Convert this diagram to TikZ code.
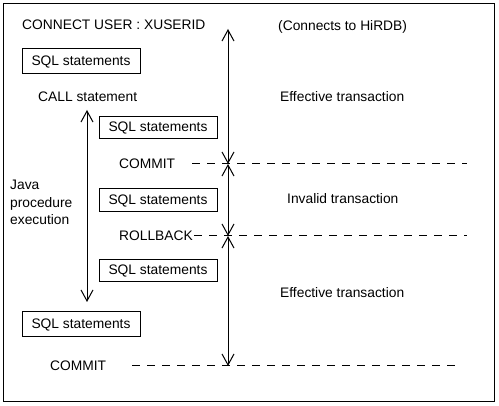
\documentclass[tikz,border=0pt]{standalone}
\usepackage{fontspec}
\setmainfont{Liberation Sans}
\usetikzlibrary{arrows.meta}
\tikzset{
  txt/.style={inner sep=0pt, anchor=west, font=\fontsize{13.8pt}{17.5pt}\selectfont},
  sqlbox/.style={draw, line width=1pt, minimum width=118pt, inner sep=0pt, font=\fontsize{13.8pt}{17.5pt}\selectfont},
  dline/.style={line width=1pt, dash pattern=on 8pt off 7pt},
  varrow/.style={line width=1pt, {Straight Barb[length=11pt,width=12pt]}-{Straight Barb[length=11pt,width=12pt]}}
}
\begin{document}
\begin{tikzpicture}[x=1pt,y=-1pt]
\useasboundingbox (0,0) rectangle (499,406);
\draw[line width=1pt] (3.5,3.5) rectangle (494,402);
% texts
\node[txt] (connect) at (22,25) {CONNECT USER : XUSERID};
\node[txt] (hirdb) at (278,27) {(Connects to HiRDB)};
\node[sqlbox, minimum height=25pt] (s1) at (81,61.5) {SQL statements};
\node[txt] (call) at (38,97) {CALL statement};
\node[txt] (eff1) at (280,97) {Effective transaction};
\node[sqlbox, minimum height=22pt] (s2) at (158,128) {SQL statements};
\node[txt] (commit1) at (119,164) {COMMIT};
\node[txt, align=left, anchor=north west] (java) at (10,180) {Java\\procedure\\execution};
\node[sqlbox, minimum height=23pt] (s3) at (158,200.5) {SQL statements};
\node[txt] (inv) at (287,199) {Invalid transaction};
\node[txt] (rollback) at (119,236) {ROLLBACK};
\node[sqlbox, minimum height=22pt] (s4) at (158,271) {SQL statements};
\node[txt] (eff2) at (280,293) {Effective transaction};
\node[sqlbox, minimum height=25pt] (s5) at (81,324.5) {SQL statements};
\node[txt] (commit2) at (50,366) {COMMIT};
% coordinates
\coordinate (jtop) at (87,110);
\coordinate (jbot) at (87,302);
\coordinate (vtop) at (228,29);
\coordinate (vc) at (228,164);
\coordinate (vr) at (228,236);
\coordinate (vb) at (228,366);
\coordinate (c1s) at (192,164);
\coordinate (c1e) at (467,164);
\coordinate (rbe) at (467,236);
\coordinate (c2s) at (132,366);
\coordinate (c2e) at (457,366);
% dashed lines
\draw[dline] (c1s) -- (c1e);
\draw[dline] (rollback.east) ++(1,0) -- (rbe);
\draw[dline] (c2s) -- (c2e);
% arrows
\draw[varrow] (jtop) -- (jbot);
\draw[varrow] (vtop) -- (vc);
\draw[varrow] (vc) -- (vr);
\draw[varrow] (vr) -- (vb);
\end{tikzpicture}
\end{document}
